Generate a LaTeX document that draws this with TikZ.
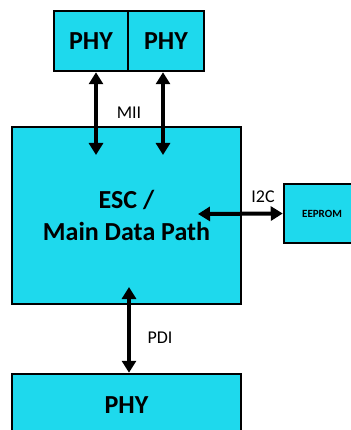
\documentclass[tikz,border=0pt]{standalone}
\usepackage{fontspec}
\setmainfont{Carlito}
\usetikzlibrary{arrows.meta}
\definecolor{boxcyan}{RGB}{30,217,237}
\tikzset{
  blk/.style={draw=black, fill=boxcyan, line width=2.5pt, inner sep=0pt, font=\bfseries\fontsize{26}{32}\selectfont, align=center},
  arr/.style={line width=4pt, {Triangle[length=12pt,width=14pt]}-{Triangle[length=12pt,width=14pt]}},
  lbl/.style={font=\fontsize{18}{20}\selectfont, inner sep=0pt}
}
\begin{document}
\begin{tikzpicture}[x=1pt,y=-1pt]
\useasboundingbox[fill=white] (0,0) rectangle (350,430);
% boxes
\node[blk, minimum width=74pt, minimum height=60pt] (phyA) at (91,41) {PHY};
\node[blk, minimum width=76pt, minimum height=60pt] (phyB) at (166,41) {PHY};
\node[blk, minimum width=229pt, minimum height=177pt] (esc) at (126.5,215.5) {ESC /\\Main Data Path};
\node[blk, minimum width=76pt, minimum height=59pt, font=\bfseries\fontsize{11}{13}\selectfont] (eeprom) at (322,213.5) {EEPROM};
\node[blk, minimum width=229pt, minimum height=62pt] (phyC) at (126.5,405) {PHY};
% arrow ends inside ESC
\coordinate (m1) at (96,155);
\coordinate (m2) at (163,155);
\coordinate (i2c) at (198,214);
\coordinate (pdi) at (129,287);
% connectors
\draw[arr] (phyA.south -| m1) -- (m1);
\draw[arr] (phyB.south -| m2) -- (m2);
\draw[arr] (i2c) -- (eeprom.west);
\draw[arr] (pdi) -- (phyC.north -| pdi);
% labels
\node[lbl] (mii) at (129,113) {MII};
\node[lbl] (i2clbl) at (263,197) {I2C};
\node[lbl] (pdilbl) at (160,338) {PDI};
\end{tikzpicture}
\end{document}
